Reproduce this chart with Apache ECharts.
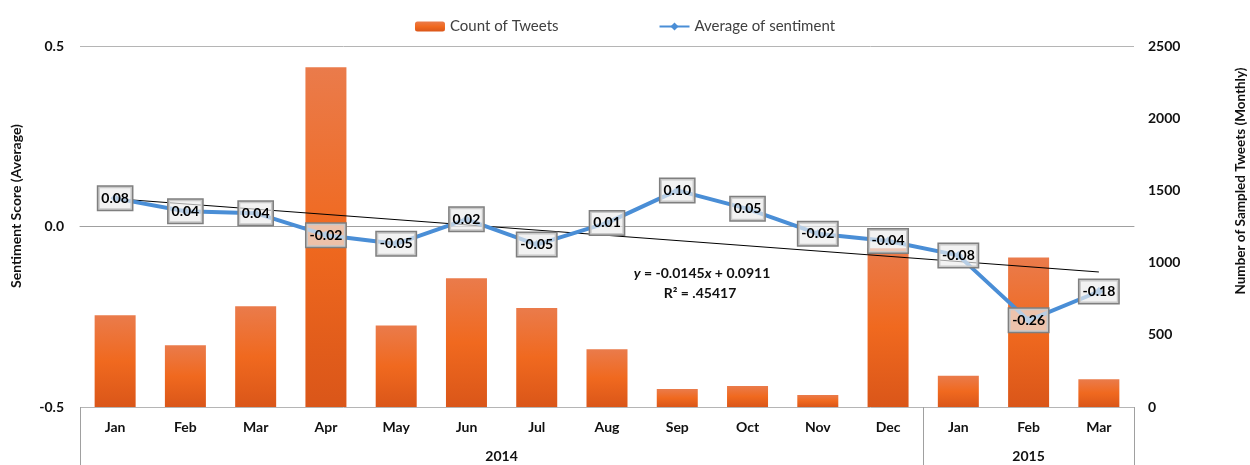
<!DOCTYPE html>
<html><head><meta charset="utf-8">
<script src="https://cdn.jsdelivr.net/npm/echarts@6/dist/echarts.min.js"></script>
<style>html,body{margin:0;padding:0;background:#fff}#c{width:1250px;height:465px}</style>
</head><body><div id="c"></div>
<script>
const months = ['Jan','Feb','Mar','Apr','May','Jun','Jul','Aug','Sep','Oct','Nov','Dec','Jan','Feb','Mar'];
const years = ['2014','2015'];
const yearSpans = [12, 3];
const tweetCounts = [635, 428, 697, 2353, 564, 891, 686, 400, 124, 145, 83, 1100, 216, 1036, 193];
const sentiment = [0.078, 0.042, 0.037, -0.024, -0.048, 0.020, -0.050, 0.010, 0.100, 0.049, -0.020, -0.040, -0.080, -0.260, -0.180];
const trendStart = 0.077, trendEnd = -0.126;
const sentimentTicks = [-0.5, 0.0, 0.5];
const countTicks = [0, 500, 1000, 1500, 2000, 2500];
const equationText = '{i|y} = -0.0145{i|x} + 0.0911';
const r2Text = 'R\u00B2 = .45417';
const leftTitle = 'Sentiment Score (Average)';
const rightTitle = 'Number of Sampled Tweets (Monthly)';

const FONT = 'Lato, "Open Sans", sans-serif';
const boundaries = [0];
const centers = [];
yearSpans.forEach((s, i) => { centers.push(boundaries[i] + s / 2); boundaries.push(boundaries[i] + s); });
const trendData = months.map((m, i) => i === 0 ? trendStart : (i === months.length - 1 ? trendEnd : null));

const chart = echarts.init(document.getElementById('c'));
chart.setOption({
  animation: false,
  textStyle: { fontFamily: FONT },
  legend: {
    top: 14, left: 'center', itemGap: 100, itemWidth: 30, itemHeight: 10,
    data: ['Count of Tweets', 'Average of sentiment'],
    textStyle: { fontFamily: FONT, fontSize: 15, color: '#404040' }
  },
  grid: { left: 80, right: 116, top: 46, bottom: 58 },
  xAxis: [{
    type: 'category', data: months, boundaryGap: true,
    axisTick: { show: false },
    axisLine: { show: true, lineStyle: { color: '#a0a0a0', width: 1 } },
    axisLabel: { margin: 13, fontFamily: FONT, fontSize: 14, fontWeight: 'bold', color: '#111' }
  }, {
    type: 'value', min: 0, max: boundaries[boundaries.length - 1], position: 'bottom',
    axisLine: { show: false }, splitLine: { show: false },
    axisTick: { show: true, customValues: boundaries, length: 60, lineStyle: { color: '#a0a0a0', width: 1 } },
    axisLabel: {
      customValues: centers, margin: 42, fontFamily: FONT, fontSize: 14, fontWeight: 'bold', color: '#111',
      formatter: v => { const i = centers.findIndex(c => Math.abs(c - v) < 1e-6); return i >= 0 ? years[i] : ''; }
    }
  }],
  yAxis: [{
    type: 'value', min: sentimentTicks[0], max: sentimentTicks[sentimentTicks.length - 1], interval: 0.5,
    axisLine: { show: false }, axisTick: { show: false },
    splitLine: { show: true, lineStyle: { color: '#b5b5b5', width: 1 } },
    axisLabel: { margin: 16, fontFamily: FONT, fontSize: 14, fontWeight: 'bold', color: '#111', formatter: v => v.toFixed(1) }
  }, {
    type: 'value', min: countTicks[0], max: countTicks[countTicks.length - 1], interval: 500,
    axisLine: { show: false }, axisTick: { show: false }, splitLine: { show: false },
    axisLabel: { margin: 14, fontFamily: FONT, fontSize: 14, fontWeight: 'bold', color: '#111', formatter: v => String(v) }
  }],
  series: [{
    name: 'Count of Tweets', type: 'bar', xAxisIndex: 0, yAxisIndex: 1, data: tweetCounts, barWidth: 41, z: 1,
    itemStyle: { color: new echarts.graphic.LinearGradient(0, 0, 0, 1, [
      { offset: 0, color: '#ea7b4b' }, { offset: 0.5, color: '#f0691f' }, { offset: 1, color: '#da5619' }
    ]) }
  }, {
    name: 'trend', type: 'line', xAxisIndex: 0, yAxisIndex: 0, data: trendData, connectNulls: true,
    symbol: 'none', silent: true, z: 3,
    lineStyle: { color: '#000', width: 1 }
  }, {
    name: 'Average of sentiment', type: 'line', xAxisIndex: 0, yAxisIndex: 0, data: sentiment, z: 4,
    symbol: 'diamond', symbolSize: 9, color: '#4a8ed6',
    lineStyle: { color: '#4a8ed6', width: 4 },
    itemStyle: { color: '#4a8ed6' },
    label: {
      show: true, position: 'inside', formatter: p => p.value.toFixed(2),
      fontFamily: FONT, fontSize: 14, fontWeight: 'bold', color: '#000',
      backgroundColor: 'rgba(236,236,236,0.68)', borderColor: '#7f7f7f', borderWidth: 1.5,
      padding: [5, 3, 4, 3]
    }
  }],
  graphic: [{
    type: 'text', x: 702, y: 273, z: 10,
    style: { text: equationText, align: 'center', verticalAlign: 'middle', fill: '#111',
      font: 'bold 14px ' + FONT,
      rich: { i: { fontStyle: 'italic', fontWeight: 'bold', fontSize: 14, fontFamily: FONT, fill: '#111' } } }
  }, {
    type: 'text', x: 700, y: 293, z: 10,
    style: { text: r2Text, align: 'center', verticalAlign: 'middle', fill: '#111', font: 'bold 14px ' + FONT }
  }, {
    type: 'text', x: 16, y: 206, rotation: Math.PI / 2, z: 10,
    style: { text: leftTitle, align: 'center', verticalAlign: 'middle', fill: '#111', font: 'bold 14px ' + FONT }
  }, {
    type: 'text', x: 1241, y: 181, rotation: Math.PI / 2, z: 10,
    style: { text: rightTitle, align: 'center', verticalAlign: 'middle', fill: '#111', font: 'bold 13.5px ' + FONT }
  }]
});
</script></body></html>
